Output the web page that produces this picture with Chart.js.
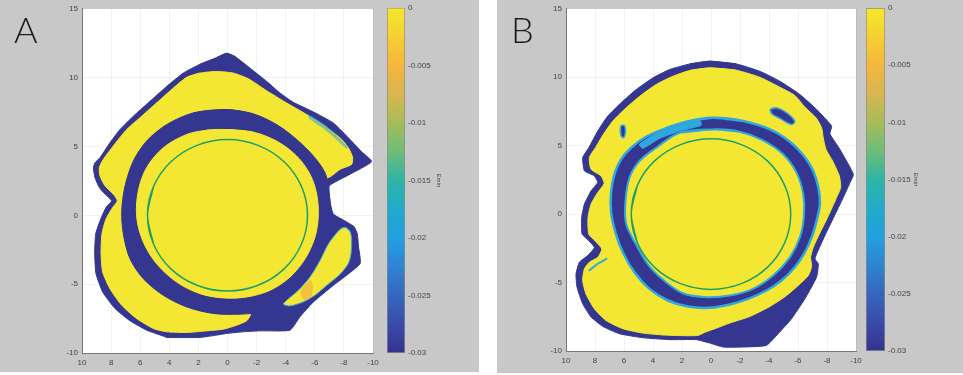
<!DOCTYPE html>
<html>
<head>
<meta charset="utf-8">
<script src="https://cdn.jsdelivr.net/npm/chart.js@4.4.1/dist/chart.umd.min.js"></script>
<style>
  html, body { margin: 0; padding: 0; background: #fff; }
  body { width: 963px; height: 375px; position: relative; overflow: hidden; }
  .panel { position: absolute; top: 0; background: #c8c8c8; }
  #pa { left: 0; width: 479px; height: 372px; }
  #pb { left: 497px; width: 466px; height: 373px; }
  canvas { position: absolute; top: 0; }
  .tag { position: absolute; font-family: Lato, "Open Sans", sans-serif; font-weight: 300;
         font-size: 36px; line-height: 36px; color: #1b1b1b; }
</style>
</head>
<body>
<div class="panel" id="pa"></div>
<div class="panel" id="pb"></div>
<canvas id="mapA" width="380" height="372" style="left:0"></canvas>
<canvas id="barA" width="75" height="372" style="left:380px"></canvas>
<canvas id="mapB" width="380" height="372" style="left:483px"></canvas>
<canvas id="barB" width="75" height="372" style="left:859px"></canvas>
<div class="tag" style="left:14px;top:11px">A</div>
<div class="tag" style="left:511px;top:11px">B</div>
<script>
// axes
const xTicks = [-10, -8, -6, -4, -2, 0, 2, 4, 6, 8, 10];
const yTicks = [-10, -5, 0, 5, 10, 15];
const barTicks = [-0.03, -0.025, -0.02, -0.015, -0.01, -0.005, 0];
const barRange = [-0.03, 0];
const barLabels = ['Emin', 'Emin'];

// colour bar (top -> bottom)
const barStops = [
  [0, '#f5e92a'], [0.1, '#f6ca35'], [0.17, '#f4b53e'], [0.25, '#d8b650'],
  [0.33, '#a9bc57'], [0.42, '#6bbd79'], [0.5, '#2fb5a6'], [0.6, '#1fa9cf'],
  [0.67, '#239fe0'], [0.75, '#2f84d2'], [0.83, '#3667bf'], [0.92, '#3a4aa8'], [1, '#34338e']
];

// reference circle (mm)
const circle = [[5.5,0],[5.08,2.1],[3.89,3.89],[2.1,5.08],[0,5.5],[-2.1,5.08],[-3.89,3.89],[-5.08,2.1],
  [-5.5,0],[-5.08,-2.1],[-3.89,-3.89],[-2.1,-5.08],[0,-5.5],[2.1,-5.08],[3.89,-3.89],[5.08,-2.1]];

// panel A contours
const aOuter = [[0.06,11.77],[-0.52,11.53],[-1.55,10.69],[-2.69,9.73],[-3.61,8.88],[-4.52,8.21],[-5.90,7.51],
  [-7.27,6.71],[-8.42,5.51],[-9.22,4.62],[-9.91,3.90],[-8.42,2.98],[-7.00,2.14],[-7.04,1.05],[-7.27,0.09],
  [-7.96,-0.34],[-8.69,-0.82],[-8.92,-1.35],[-9.01,-2.32],[-9.11,-3.52],[-7.27,-5.09],[-5.90,-6.29],[-4.98,-7.37],
  [-4.30,-8.34],[-2.23,-8.39],[-1.09,-8.46],[0.06,-8.58],[0.74,-8.70],[1.89,-8.87],[4.18,-8.87],[4.41,-8.77],
  [5.56,-8.34],[6.70,-7.66],[7.73,-6.77],[8.58,-5.57],[9.04,-4.24],[9.13,-2.80],[9.06,-1.35],[8.76,-0.39],
  [8.35,0.57],[7.96,1.05],[8.42,1.54],[8.81,2.02],[9.11,2.74],[9.22,3.46],[9.11,3.82],[8.76,4.19],[8.08,5.27],
  [7.39,6.23],[6.47,7.20],[5.33,8.28],[4.18,9.36],[3.04,10.33],[1.89,10.98],[0.74,11.46]];
const aBand = [[2.81,10.01],[1.89,10.33],[0.74,10.45],[-0.40,10.33],[-1.43,9.92],[-2.69,9.05],[-4.07,8.16],
  [-5.44,7.32],[-6.70,6.47],[-7.85,5.51],[-8.37,4.79],[-8.60,4.19],[-8.53,3.70],[-7.73,3.34],[-7.04,2.79],[0,0],
  [-0.86,-6.65],[-1.59,-7.13],[-1.32,-7.66],[-0.52,-8.02],[0.29,-8.27],[1.43,-8.39],[2.81,-8.51],[4.18,-8.46],
  [5.10,-8.22],[6.24,-7.50],[7.27,-6.53],[8.08,-5.33],[8.58,-4.12],[8.69,-2.80],[8.63,-1.35],[8.35,-0.27],
  [7.89,0.57],[7.57,1.05],[7.85,1.54],[8.42,2.14],[8.76,2.86],[8.81,3.46],[8.53,4.07],[7.73,5.20],[6.93,6.23],
  [5.90,7.20],[4.75,8.28],[3.72,9.24]];
const aRing = [[0.06,7.68],[-1.78,7.37],[-3.38,6.59],[-4.75,5.51],[-5.90,4.31],[-6.70,3.10],[-6.93,2.02],
  [-7.09,0.57],[-7.16,-0.39],[-7.04,-1.35],[-6.59,-2.56],[-5.90,-3.76],[-5.10,-4.97],[-4.30,-5.93],[-3.61,-6.53],
  [-2.46,-7.01],[-0.86,-7.18],[0.97,-7.13],[2.81,-6.65],[4.41,-5.81],[5.78,-4.61],[6.70,-3.16],[7.16,-1.35],
  [7.27,0.33],[7.04,2.14],[6.47,3.95],[5.56,5.39],[4.18,6.59],[2.35,7.44]];
const aPiece = [[-8.08,-0.87],[-8.42,-1.16],[-8.53,-1.71],[-8.49,-2.80],[-8.30,-3.52],[-7.73,-4.29],[-6.82,-5.09],
  [-6.01,-5.81],[-5.21,-6.29],[-4.30,-6.58],[-3.84,-6.46],[-4.07,-6.17],[-4.87,-5.45],[-5.67,-4.48],[-6.36,-3.28],
  [-6.93,-2.08],[-7.73,-1.02]];
const aDisc = [[0.06,6.23],[-1.78,6.04],[-3.38,5.39],[-4.75,4.31],[-5.67,2.98],[-6.13,1.54],[-6.24,-0.03],
  [-6.01,-1.59],[-5.33,-3.16],[-4.30,-4.48],[-2.92,-5.45],[-1.32,-5.93],[0.29,-6.00],[1.89,-5.69],[3.49,-4.85],
  [4.87,-3.52],[5.78,-1.96],[6.24,-0.15],[6.13,1.78],[5.56,3.46],[4.41,4.91],[2.81,5.87],[1.43,6.18]];
const aCyan = [[-5.67,7.24],[-6.70,6.55],[-7.53,5.75],[-8.24,4.96],[-8.15,4.88],[-7.45,5.55],[-6.62,6.30],[-5.60,7.05]];
const aOrange = [[-5.05,-5.65],[-5.35,-5.05],[-5.70,-4.75],[-5.85,-5.20],[-5.70,-5.95],[-5.35,-6.15]];

// panel B contours
const bOuter = [[0.09,11.17],[-1.75,10.97],[-3.36,10.44],[-4.75,9.71],[-6.13,8.74],[-7.28,7.65],[-8.32,6.43],
  [-8.20,5.87],[-8.89,4.73],[-9.82,2.91],[-9.59,2.31],[-9.12,1.21],[-8.46,-0.24],[-7.90,-1.46],[-7.28,-2.91],
  [-7.17,-3.28],[-7.40,-3.64],[-7.28,-4.61],[-6.47,-6.19],[-5.55,-7.65],[-4.63,-8.74],[-3.82,-9.59],[-2.21,-9.71],
  [-0.83,-9.71],[0.09,-9.42],[1.01,-9.17],[2.86,-9.17],[4.70,-9.03],[6.31,-8.74],[7.47,-8.20],[8.27,-7.52],
  [8.85,-6.55],[9.24,-5.34],[9.31,-4.37],[9.08,-3.52],[8.50,-3.03],[8.04,-2.43],[8.43,-1.94],[8.89,-1.46],
  [8.92,-0.24],[8.73,0.73],[8.27,1.70],[7.81,2.31],[8.04,2.79],[8.73,3.16],[8.85,4.13],[8.43,4.85],[7.81,6.07],
  [7.12,7.16],[6.20,8.13],[5.16,9.10],[4.01,9.95],[2.86,10.56],[1.47,10.97]];
const bBand = [[0.09,10.68],[-1.75,10.51],[-3.36,10.00],[-4.75,9.27],[-5.78,8.67],[-6.47,7.82],[-7.24,7.04],
  [-7.63,6.31],[-7.74,5.58],[-7.93,4.73],[-8.39,3.88],[-8.85,2.79],[-8.94,1.94],[-8.66,1.21],[-8.04,-0.24],
  [-7.47,-1.46],[-7.05,-2.43],[-6.87,-3.16],[-6.94,-3.83],[-6.71,-4.49],[-6.13,-5.10],[-5.21,-5.95],[-4.06,-6.75],
  [-2.67,-7.48],[-1.29,-7.96],[-0.37,-8.33],[0.44,-8.64],[0.90,-8.86],[1.94,-8.88],[3.32,-8.83],[4.70,-8.69],
  [6.08,-8.37],[7.24,-7.77],[8.04,-6.92],[8.62,-5.83],[8.85,-4.85],[8.73,-4.00],[8.39,-3.52],[7.81,-3.16],
  [7.53,-2.55],[8.00,-1.94],[8.43,-1.46],[8.48,-0.24],[8.27,0.73],[7.81,1.58],[7.37,2.23],[7.58,2.79],[8.27,3.28],
  [8.39,4.13],[7.97,4.85],[7.42,5.83],[6.77,6.80],[5.85,7.77],[4.82,8.69],[3.78,9.47],[2.63,10.07],[1.47,10.49]];
const bRing = [[-0.14,7.04],[-2.21,6.80],[-4.06,6.19],[-5.44,5.29],[-6.41,4.25],[-7.05,3.16],[-7.40,1.94],
  [-7.51,0.73],[-7.28,-0.49],[-6.94,-1.70],[-6.41,-2.91],[-5.78,-3.88],[-4.86,-4.85],[-3.82,-5.58],[-2.56,-6.19],
  [-1.29,-6.60],[0.09,-6.84],[1.59,-6.75],[2.97,-6.31],[4.24,-5.46],[5.28,-4.25],[6.08,-2.79],[6.59,-1.33],
  [6.89,0.12],[6.89,1.58],[6.66,2.91],[6.20,4.00],[5.51,4.85],[4.59,5.58],[3.32,6.19],[1.71,6.75]];
const bArc = [[4.93,5.10],[3.78,5.87],[2.40,6.43],[0.78,6.84],[0.67,6.50],[2.17,6.07],[3.55,5.53],[4.70,4.81]];
const bDisc = [[-0.14,6.19],[-1.98,6.02],[-3.59,5.39],[-4.98,4.37],[-5.90,3.03],[-6.36,1.46],[-6.41,-0.12],
  [-6.13,-1.70],[-5.44,-3.16],[-4.29,-4.49],[-2.90,-5.46],[-1.29,-5.95],[0.32,-6.07],[1.94,-5.78],[3.30,-4.80],
  [4.30,-3.75],[5.12,-2.31],[5.85,-0.73],[5.90,0.97],[5.62,2.67],[4.93,3.88],[3.78,4.85],[2.17,5.95]];
const bBlobTop = [[-4.10,7.65],[-4.52,7.77],[-5.32,7.33],[-5.78,6.75],[-5.55,6.55],[-4.75,6.99],[-4.19,7.33]];
const bBlobLeft = [[6.22,6.43],[5.99,6.50],[5.90,6.02],[6.04,5.58],[6.22,5.78]];
const bStreak = [[8.43,-4.08],[7.81,-3.57],[7.19,-3.20],[7.16,-3.30],[7.76,-3.67],[8.38,-4.16]];

const BLUE = '#35368f', YELLOW = '#f4e733', CYAN = '#2fa7df', GREEN = '#1e9f6a';
const SOFT_CYAN = 'rgba(47,167,223,0.55)', SOFT_ORANGE = 'rgba(236,170,70,0.6)';
const tickFont = { family: '"Liberation Sans", Arial, sans-serif', size: 8 };
const tickColor = '#444';

// closed outline, wrapped so the curve joins smoothly
function loop(pts) {
  const p = pts.map(([x, y]) => ({ x, y }));
  return [p[p.length - 1], ...p, p[0], p[1]];
}

const plotBg = {
  id: 'plotBg',
  beforeDraw(c) {
    const { ctx, chartArea: a } = c;
    ctx.save();
    ctx.fillStyle = '#fff';
    ctx.fillRect(a.left, a.top, a.right - a.left, a.bottom - a.top);
    ctx.restore();
  }
};

function drawMap(id, layers, pad) {
  new Chart(document.getElementById(id), {
    type: 'scatter',
    plugins: [plotBg],
    data: {
      datasets: layers.map((l, i) => ({
        data: loop(l.pts),
        showLine: true,
        fill: l.line ? false : 'shape',
        backgroundColor: l.color,
        borderColor: l.edge || l.color,
        borderWidth: l.width || 1,
        tension: l.tension == null ? 0.2 : l.tension,
        pointRadius: 0,
        order: layers.length - i
      }))
    },
    options: {
      responsive: false,
      animation: false,
      events: [],
      layout: { padding: pad },
      plugins: { legend: { display: false }, tooltip: { enabled: false } },
      scales: {
        x: {
          type: 'linear', reverse: true, min: -10, max: 10,
          afterBuildTicks: s => { s.ticks = xTicks.map(v => ({ value: v })); },
          afterFit: s => { s.height = 18; },
          grid: { color: 'rgba(0,0,0,0.05)', drawTicks: false },
          border: { color: '#777' },
          ticks: { font: tickFont, color: tickColor, padding: 5, maxRotation: 0, autoSkip: false, callback: v => String(v) }
        },
        y: {
          min: -10, max: 15,
          afterBuildTicks: s => { s.ticks = yTicks.map(v => ({ value: v })); },
          afterFit: s => { s.width = 22; },
          grid: { color: 'rgba(0,0,0,0.05)', drawTicks: false },
          border: { color: '#777' },
          ticks: { font: tickFont, color: tickColor, padding: 4, autoSkip: false, callback: v => String(v) }
        }
      }
    }
  });
}

function gradient(chart) {
  const a = chart.chartArea;
  if (!a) return BLUE;
  const g = chart.ctx.createLinearGradient(0, a.top, 0, a.bottom);
  barStops.forEach(([o, c]) => g.addColorStop(o, c));
  return g;
}

function drawBar(id, label, pad, axisWidth) {
  new Chart(document.getElementById(id), {
    type: 'bar',
    data: {
      labels: [label],
      datasets: [{
        data: [barRange],
        backgroundColor: c => gradient(c.chart),
        borderColor: '#8c8c8c', borderWidth: 1, borderSkipped: false,
        barPercentage: 1, categoryPercentage: 1
      }]
    },
    options: {
      responsive: false,
      animation: false,
      events: [],
      layout: { padding: pad },
      plugins: { legend: { display: false }, tooltip: { enabled: false } },
      scales: {
        x: { display: false },
        y: {
          position: 'right', min: barRange[0], max: barRange[1],
          afterBuildTicks: s => { s.ticks = barTicks.map(v => ({ value: v })); },
          afterFit: s => { s.width = axisWidth; },
          grid: { display: false, drawTicks: false },
          border: { display: false },
          ticks: { font: tickFont, color: tickColor, padding: 3, callback: v => String(v) },
          title: { display: true, text: label, font: { ...tickFont, size: 6 }, color: tickColor, padding: 0 }
        }
      }
    }
  });
}

drawMap('mapA', [
  { pts: aOuter, color: BLUE, tension: 0.15 },
  { pts: aBand, color: YELLOW, tension: 0.2 },
  { pts: aCyan, color: SOFT_CYAN, width: 0.5, tension: 0.3 },
  { pts: aRing, color: BLUE, tension: 0.3 },
  { pts: aPiece, color: YELLOW, edge: CYAN, width: 1, tension: 0.25 },
  { pts: aOrange, color: SOFT_ORANGE, width: 0.5, tension: 0.3 },
  { pts: aDisc, color: YELLOW, tension: 0.33 },
  { pts: circle, color: GREEN, line: true, width: 1.5, tension: 0.33 }
], { left: 60, top: 7, right: 7, bottom: 1 });

drawMap('mapB', [
  { pts: bOuter, color: BLUE, tension: 0.15 },
  { pts: bBand, color: YELLOW, tension: 0.2 },
  { pts: bStreak, color: CYAN, width: 0.5, tension: 0.2 },
  { pts: bBlobTop, color: BLUE, edge: CYAN, width: 1.5, tension: 0.3 },
  { pts: bBlobLeft, color: BLUE, edge: CYAN, width: 1.5, tension: 0.3 },
  { pts: bRing, color: BLUE, edge: CYAN, width: 2.5, tension: 0.3 },
  { pts: bArc, color: CYAN, tension: 0.2 },
  { pts: bDisc, color: YELLOW, edge: CYAN, width: 2, tension: 0.33 },
  { pts: circle, color: GREEN, line: true, width: 1.5, tension: 0.33 }
], { left: 61, top: 8, right: 7, bottom: 3 });

drawBar('barA', barLabels[0], { left: 7, top: 7, right: 13, bottom: 19 }, 37);
drawBar('barB', barLabels[1], { left: 7, top: 8, right: 15, bottom: 21 }, 34);
</script>
</body>
</html>
